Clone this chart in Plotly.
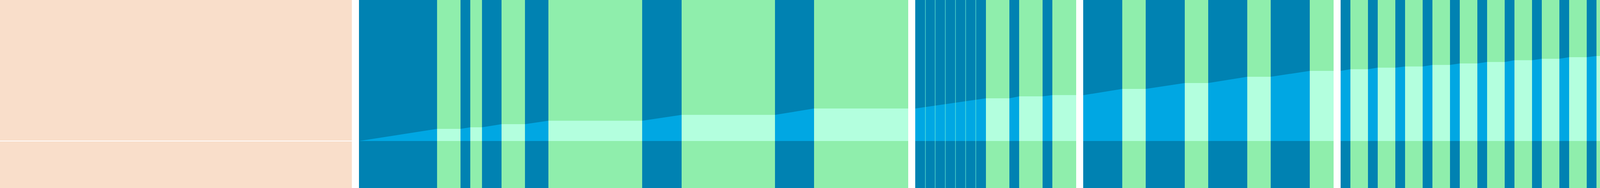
import plotly.graph_objects as go

# four banded panels, x measured from the left edge of each panel
panel_len = [1406, 412, 641, 1121]

# "on" periods (dark bands) in each panel
on_start = [
    [0, 260, 315, 425, 725, 1065],
    [0, 241, 326],
    [0, 160, 320, 480],
    [0, 70, 140, 210, 280, 350, 420, 490, 560, 630, 700, 770, 840, 910, 980, 1050],
]
on_end = [
    [200, 285, 365, 485, 826, 1165],
    [181, 266, 351],
    [100, 260, 420, 580],
    [25, 95, 165, 235, 305, 375, 445, 515, 585, 655, 725, 795, 865, 935, 1005, 1075],
]

# running total at the start of each panel and at the end of every "on" period
cum_start = [0, 83, 117, 179]
cum_end = [
    [31, 35, 43, 51.7, 66.7, 83],
    [109, 114, 117.3],
    [133, 148, 164, 179],
    [183.3, 187.3, 190.3, 194.3, 198, 201.7, 206.3, 210, 214, 217, 221, 224.7, 229, 233, 237, 239.7],
]

# thin separators inside the first block of panel 2
split_marks = [26, 51, 77, 103, 129, 155]

BG = "#F9DECA"
ON = "#0082B2"
OFF = "#8FEEAC"
ON_FILL = "#00A7E3"
OFF_FILL = "#B3FFDE"
SPLIT = "#7FFFD4"

W, H = 4553, 480
px_edges = [(0, 900.7), (918.9, 2325), (2343, 2755), (2773, 3414), (3432, 4553)]

fig = go.Figure()
layout = dict(width=W, height=H, margin=dict(l=0, r=0, t=0, b=0, pad=0),
              plot_bgcolor=BG, paper_bgcolor="white", showlegend=False)

# empty first panel: just background and zero line
layout["xaxis"] = dict(domain=[px_edges[0][0] / W, px_edges[0][1] / W], range=[0, 1],
                       visible=False, fixedrange=True)
layout["yaxis"] = dict(range=[-120, 360], showgrid=False, showticklabels=False,
                       zeroline=True, zerolinecolor="white", zerolinewidth=1.5, fixedrange=True)
fig.add_trace(go.Scatter(x=[0, 1], y=[0, 0], mode="lines", line=dict(width=0),
                         hoverinfo="skip", xaxis="x", yaxis="y"))

layout["yaxis2"] = dict(range=[-120, 360], visible=False, anchor="x2", fixedrange=True)

shapes = []
for i in range(4):
    ax = f"x{i + 2}"
    layout[f"xaxis{i + 2}"] = dict(domain=[px_edges[i + 1][0] / W, px_edges[i + 1][1] / W],
                                   range=[0, panel_len[i]], visible=False, anchor="y2",
                                   fixedrange=True)
    # off background over the whole panel, on bands on top
    shapes.append(dict(type="rect", xref=ax, yref="paper", x0=0, x1=panel_len[i], y0=0, y1=1,
                       fillcolor=OFF, line=dict(width=0), layer="below"))
    for s, e in zip(on_start[i], on_end[i]):
        shapes.append(dict(type="rect", xref=ax, yref="paper", x0=s, x1=e, y0=0, y1=1,
                           fillcolor=ON, line=dict(width=0), layer="below"))

    # area under the running total, one piece per band
    level = cum_start[i]
    pos = 0
    for s, e, v in zip(on_start[i], on_end[i], cum_end[i]):
        if s > pos:
            fig.add_trace(go.Scatter(x=[pos, s], y=[level, level], mode="lines",
                                     line=dict(width=0), fill="tozeroy", fillcolor=OFF_FILL,
                                     hoverinfo="skip", xaxis=ax, yaxis="y2"))
        fig.add_trace(go.Scatter(x=[s, e], y=[level, v], mode="lines",
                                 line=dict(width=0), fill="tozeroy", fillcolor=ON_FILL,
                                 hoverinfo="skip", xaxis=ax, yaxis="y2"))
        level, pos = v, e
    if pos < panel_len[i]:
        fig.add_trace(go.Scatter(x=[pos, panel_len[i]], y=[level, level], mode="lines",
                                 line=dict(width=0), fill="tozeroy", fillcolor=OFF_FILL,
                                 hoverinfo="skip", xaxis=ax, yaxis="y2"))

for m in split_marks:
    shapes.append(dict(type="line", xref="x3", yref="paper", x0=m, x1=m, y0=0, y1=1,
                       line=dict(color=SPLIT, width=1), layer="above"))

layout["shapes"] = shapes
fig.update_layout(**layout)
# page margin would otherwise leave a white strip around the figure
fig.write_html("out.html", config={"displayModeBar": False},
               post_script="document.body.style.margin='0';document.body.style.overflow='hidden';")
